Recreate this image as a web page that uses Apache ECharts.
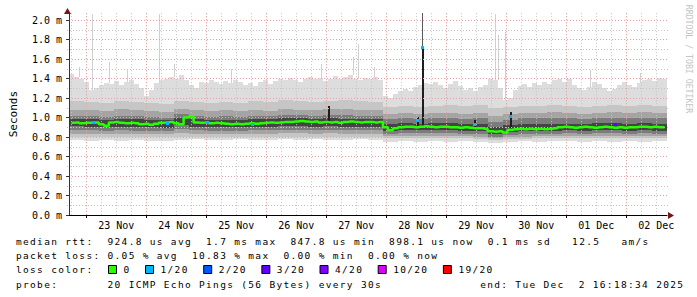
<!DOCTYPE html>
<html><head><meta charset="utf-8">
<script src="https://cdn.jsdelivr.net/npm/echarts@6/dist/echarts.min.js"></script>
<style>
html,body{margin:0;padding:0;background:#fff;}
#c{width:697px;height:297px;}
#c svg text{white-space:pre;}
#c svg text[style*="monospace"]{letter-spacing:1.32px;}
</style></head><body><div id="c"></div>
<script>
// time axis in hours since 22 Nov 2025 00:00
const startHour = 16.3094;   // 22 Nov 16:18:34
const spanHours = 240;
const dayLabels = ['23 Nov','24 Nov','25 Nov','26 Nov','27 Nov','28 Nov','29 Nov','30 Nov','01 Dec','02 Dec'];
const yTickLabels = ['0.0 m','0.2 m','0.4 m','0.6 m','0.8 m','1.0 m','1.2 m','1.4 m','1.6 m','1.8 m','2.0 m'];

// median rtt (ms), 120 slots of 2 h
const median = [0.945,0.95,0.94,0.945, 0.945,0.95, 0.93,0.915, 0.95,0.955,0.945,0.94,
 0.945,0.94,0.93,0.935, 0.925,0.935,0.945,0.95, 0.955,0.94,0.93,1.0, 1.01,0.95,
 0.945,0.95,0.94,0.945,0.94, 0.935,0.93,0.935,0.93,0.935,0.94,0.935,0.94,
 0.945,0.95,0.945,0.95,0.955,0.955, 0.96,0.965,0.96,0.955,0.96,0.95,
 0.955,0.95,0.955,0.945,0.955,0.96,0.955,0.95, 0.955,0.955,0.95,0.955, 0.9,
 0.87,0.89,0.9, 0.905,0.905,0.9,0.905,0.91,0.905,0.9,0.905,0.905,0.9,
 0.9,0.895,0.9,0.895,0.89,0.89,0.885, 0.86,0.855,0.86,0.845,
 0.875,0.88,0.885,0.88,0.885,0.88,0.885,0.88,0.885,0.89,
 0.9,0.905,0.9,0.895,0.9,0.905,0.9,0.895,0.9,0.905,0.9,0.895,0.9,0.895,0.9,0.9,0.905,0.905,0.9,0.905,0.9,0.9];

// highest ping (ms), 120 slots of 2 h
const pingMax = [1.45,1.42,1.40,1.36, 1.28,1.30,1.33,1.35, 1.34,1.37,1.33,1.36, 1.38,1.34,1.30,1.22,
 1.28,1.35,1.38,1.40, 1.42,1.40,1.44,1.38, 1.33,1.30,1.36,1.35, 1.38,1.36,1.34,1.37,
 1.35,1.38,1.36,1.33, 1.35,1.32,1.36,1.38, 1.34,1.37,1.40,1.38, 1.41,1.38,1.36,1.40,
 1.42,1.39,1.41,1.37, 1.40,1.43,1.39,1.42, 1.44,1.40,1.38,1.41, 1.39,1.42,1.38,
 1.22,1.20,1.24,1.27, 1.29,1.27,1.31,1.33, 1.35,1.34,1.36,1.33, 1.30,1.34,1.37,1.32,
 1.28,1.30,1.27,1.31, 1.33,1.40,1.38,1.30, 1.18,1.20,1.28,1.32, 1.34,1.31,1.35,1.33,
 1.36,1.34,1.38,1.40, 1.36,1.39,1.33,1.30, 1.28,1.31,1.36,1.34, 1.30,1.27,1.29,1.33,
 1.36,1.33,1.31,1.35, 1.38,1.40,1.37,1.41,1.39];

// lowest ping and smoke band edges (ms), 40 slots of 6 h
const pingMin = [0.77,0.76,0.77,0.76,0.77,0.76,0.76,0.77,0.78,0.77, 0.77,0.78,0.77,0.77,0.78,0.77,0.78,0.77,0.77,0.78,
 0.77,0.75,0.76,0.75,0.76,0.75,0.76,0.75,0.74,0.75, 0.76,0.75,0.76,0.76,0.75,0.76,0.75,0.76,0.75,0.76];
const smokeLoA = [0.80,0.80,0.80,0.80,0.80,0.795,0.80,0.80,0.80,0.80, 0.80,0.80,0.80,0.80,0.805,0.805,0.80,0.805,0.80,0.80,
 0.80,0.785,0.785,0.79,0.785,0.785,0.785,0.78,0.77,0.78, 0.78,0.785,0.785,0.785,0.785,0.785,0.785,0.785,0.785,0.785];
const smokeHiA = [1.17,1.16,1.15,1.17,1.16,1.15,1.14,1.17,1.16,1.15, 1.16,1.15,1.17,1.16,1.18,1.17,1.16,1.17,1.18,1.17,
 1.16,1.11,1.12,1.11,1.12,1.13,1.12,1.13,1.10,1.11, 1.12,1.12,1.13,1.12,1.11,1.12,1.13,1.12,1.13,1.12];
const smokeLoB = [0.835,0.835,0.83,0.835,0.83,0.83,0.83,0.84,0.835,0.83, 0.83,0.83,0.835,0.835,0.84,0.84,0.835,0.84,0.835,0.835,
 0.835,0.81,0.81,0.815,0.81,0.81,0.81,0.805,0.79,0.80, 0.805,0.81,0.81,0.81,0.81,0.81,0.81,0.81,0.81,0.81];
const smokeHiB = [1.08,1.08,1.07,1.09,1.08,1.07,1.06,1.09,1.08,1.07, 1.08,1.07,1.08,1.07,1.09,1.08,1.08,1.09,1.09,1.08,
 1.08,1.04,1.05,1.04,1.05,1.05,1.04,1.05,1.02,1.04, 1.05,1.05,1.06,1.05,1.04,1.05,1.06,1.05,1.06,1.05];
const smokeLoC = [0.87,0.87,0.865,0.87,0.865,0.865,0.86,0.88,0.87,0.865, 0.865,0.865,0.87,0.87,0.875,0.875,0.87,0.875,0.87,0.87,
 0.87,0.835,0.84,0.845,0.84,0.84,0.835,0.83,0.80,0.82, 0.83,0.835,0.835,0.84,0.835,0.84,0.84,0.835,0.84,0.835];
const smokeHiC = [1.02,1.02,1.01,1.02,1.02,1.01,1.00,1.04,1.02,1.01, 1.02,1.01,1.02,1.02,1.03,1.03,1.02,1.03,1.03,1.02,
 1.02,0.98,0.99,0.98,0.99,0.99,0.98,0.99,0.95,0.97, 0.99,0.99,1.00,0.99,0.98,0.99,1.00,0.99,1.00,0.99];
const smokeLoD = [0.91,0.905,0.9,0.905,0.9,0.9,0.895,0.92,0.905,0.9, 0.9,0.9,0.9,0.905,0.91,0.91,0.905,0.91,0.905,0.905,
 0.905,0.865,0.87,0.875,0.87,0.87,0.865,0.86,0.83,0.85, 0.86,0.865,0.865,0.87,0.865,0.87,0.87,0.865,0.87,0.865];
const smokeHiD = [0.98,0.98,0.975,0.98,0.98,0.97,0.97,1.0,0.98,0.975, 0.975,0.975,0.98,0.98,0.99,0.99,0.985,0.99,0.985,0.98,
 0.98,0.935,0.94,0.935,0.94,0.94,0.935,0.935,0.90,0.92, 0.93,0.935,0.935,0.935,0.935,0.94,0.94,0.935,0.94,0.935];

// isolated high pings
const lightSpikeHours = [20.3,25.5,32.3,39.5,52.3,58.3,81.5,117.5,130.3,132.3,138.7,187.1,188.3,191.1,225.5,245.5];
const lightSpikeTops  = [1.52,2.06,1.57,1.50,2.06,1.55,1.50,1.55,1.62,1.75,1.52,2.06,1.85,1.88,1.49,1.46];
const darkSpikeHours = [120.3,155.9,158.1,178.7,193.5];
const darkSpikeTops  = [1.12,1.01,1.72,0.97,1.06];
const greySpikeHours = [158.1];
const greySpikeTops  = [2.07];

// median samples with packet loss
const lossHours  = [25.9,55.5,71.5,89.9,155.9,158.1,178.7,193.5,235.5];
const lossValues = [0.95,0.945,0.95,0.935,0.97,1.72,0.93,1.015,0.93];
const lossCounts = [1,1,1,1,1,1,1,1,3];

const lossLegendLabels = ['0','1/20','2/20','3/20','4/20','10/20','19/20'];
const lossLegendColors = ['#26ff00','#00b8ff','#0059ff','#5e00ff','#7e00ff','#dd00ff','#ff0000'];
const lossColorOf = {0:'#26ff00',1:'#00b8ff',2:'#0059ff',3:'#5e00ff',4:'#7e00ff',10:'#dd00ff',19:'#ff0000'};

const legendLines = [
  'median rtt:  924.8 us avg  1.7 ms max  847.8 us min  898.1 us now  0.1 ms sd   12.5   am/s',
  'packet loss: 0.05 % avg  10.83 % max  0.00 % min  0.00 % now',
  'loss color:',
  'probe:       20 ICMP Echo Pings (56 Bytes) every 30s'
];
const endText = 'end: Tue Dec  2 16:18:34 2025';

function slotOf(h, n) { return Math.min(n - 1, Math.max(0, Math.floor((h - startHour) / (spanHours / n)))); }

function rectItem(api, h0, h1, v0, v1, color) {
  const p0 = api.coord([h0, v1]);
  const p1 = api.coord([h1, v0]);
  const x0 = Math.round(p0[0]), x1 = Math.round(p1[0]);
  const y0 = Math.round(p0[1]), y1 = Math.round(p1[1]);
  return {type: 'rect', shape: {x: x0, y: y0, width: Math.max(1, x1 - x0), height: Math.max(1, y1 - y0)}, style: {fill: color}};
}

function bandSeries(lo, hi, color, z) {
  const n = hi.length, w = spanHours / n;
  return {
    type: 'custom', xAxisIndex: 0, yAxisIndex: 0, z: z, silent: true, clip: false,
    data: hi.map((v, i) => [startHour + i * w, startHour + (i + 1) * w, lo[Math.floor(i * lo.length / n)], v]),
    encode: {x: [0, 1], y: [2, 3]},
    renderItem: (params, api) => rectItem(api, api.value(0), api.value(1), api.value(2), api.value(3), color)
  };
}

function spikeSeries(hours, tops, baseArr, color, width, z) {
  return {
    type: 'custom', xAxisIndex: 0, yAxisIndex: 0, z: z, silent: true, clip: false,
    data: hours.map((h, i) => [h, baseArr[slotOf(h, baseArr.length)], tops[i]]),
    encode: {x: 0, y: [1, 2]},
    renderItem: (params, api) => {
      const p0 = api.coord([api.value(0), api.value(2)]);
      const p1 = api.coord([api.value(0), api.value(1)]);
      const x = Math.round(p0[0]);
      return {type: 'rect', shape: {x: x, y: Math.round(p0[1]), width: width, height: Math.round(p1[1]) - Math.round(p0[1])}, style: {fill: color}};
    }
  };
}

const series = [
  bandSeries(pingMin, pingMax, '#dddddd', 1),
  spikeSeries(lightSpikeHours, lightSpikeTops, pingMax, '#d0d0d0', 1, 1.1),
  bandSeries(smokeLoA, smokeHiA, '#c6c6c6', 1.2),
  bandSeries(smokeLoB, smokeHiB, '#a4a4a4', 1.3),
  bandSeries(smokeLoC, smokeHiC, '#7c7c7c', 1.4),
  bandSeries(smokeLoD, smokeHiD, '#444444', 1.5),
  spikeSeries(greySpikeHours, greySpikeTops, median, '#5a5a5a', 1, 1.6),
  spikeSeries(darkSpikeHours, darkSpikeTops, median, '#1e1e1e', 2, 1.7),
  {
    type: 'line', xAxisIndex: 0, yAxisIndex: 0, z: 5, silent: true, step: 'middle', symbol: 'none',
    lineStyle: {color: '#26ff00', width: 2.5}, clip: false,
    data: median.map((v, i) => [startHour + (i + 0.5) * spanHours / median.length, v])
  },
  {
    type: 'custom', xAxisIndex: 0, yAxisIndex: 0, z: 6, silent: true, clip: false,
    data: lossHours.map((h, i) => [h, lossValues[i], lossCounts[i]]),
    encode: {x: 0, y: 1},
    renderItem: (params, api) => {
      const p = api.coord([api.value(0), api.value(1)]);
      return {type: 'rect', shape: {x: Math.round(p[0]) - 1, y: Math.round(p[1]) - 1, width: 3, height: 3},
              style: {fill: lossColorOf[api.value(2)]}};
    }
  }
];

const monoAxis = {fontFamily: 'DejaVu Sans Mono', fontSize: 10, color: '#000'};
const dotRed = {color: '#eaa0a0', width: 1, type: [1, 2]};
const dotGrey = {color: '#c4c4c4', width: 1, type: [1, 2]};
const hidden = {axisLine: {show: false}, axisTick: {show: false}, axisLabel: {show: false}, splitLine: {show: false}};

const gTop = 13.175, gBottom = 82;
const option = {
  backgroundColor: '#ffffff',
  animation: false,
  grid: [
    {left: 67, right: 30, top: gTop, bottom: gBottom},
    {left: 71.2265, right: 40.7735, top: gTop, bottom: gBottom},
    {left: 86.2265, right: 70.7735, top: gTop, bottom: gBottom},
    {left: 116.2265, right: 40.7735, top: gTop, bottom: gBottom},
    {left: 67, right: 29, top: 29.75, bottom: 91.75}
  ],
  xAxis: [
    Object.assign({}, hidden, {gridIndex: 0, type: 'value', min: startHour, max: startHour + spanHours, z: 4,
      axisLine: {show: true, lineStyle: {color: '#000', width: 1}}}),
    Object.assign({}, hidden, {gridIndex: 1, type: 'value', min: 18, max: 252, interval: 6, z: 3,
      splitLine: {show: true, lineStyle: dotGrey}}),
    Object.assign({}, hidden, {gridIndex: 2, type: 'value', min: 24, max: 240, interval: 24, z: 3.5,
      splitLine: {show: true, lineStyle: dotRed},
      axisTick: {show: true, length: 3, lineStyle: {color: '#000'}}}),
    Object.assign({}, hidden, {gridIndex: 3, type: 'value', min: 36, max: 252, interval: 24, z: 4,
      axisLabel: Object.assign({show: true, margin: 5, formatter: v => dayLabels[Math.round((v - 36) / 24)] || ''}, monoAxis)}),
    Object.assign({}, hidden, {gridIndex: 4, type: 'value', min: startHour, max: startHour + spanHours})
  ],
  yAxis: [
    {gridIndex: 0, type: 'value', min: 0, max: 2.07, interval: 0.2, z: 4,
      axisLine: {show: true, lineStyle: {color: '#333', width: 1}},
      axisTick: {show: true, length: 3, lineStyle: {color: '#333'}},
      axisLabel: Object.assign({margin: 7, showMaxLabel: false, formatter: v => {
        const k = v / 0.2; if (Math.abs(k - Math.round(k)) > 0.01) return ''; return yTickLabels[Math.round(k)] || '';
      }}, monoAxis),
      splitLine: {show: true, showMinLine: false, showMaxLine: false, lineStyle: dotRed},
      name: 'Seconds', nameLocation: 'middle', nameGap: 50,
      nameTextStyle: {fontFamily: 'DejaVu Sans Mono', fontSize: 11, color: '#000'}},
    Object.assign({}, hidden, {gridIndex: 1, type: 'value', min: 0, max: 1}),
    Object.assign({}, hidden, {gridIndex: 2, type: 'value', min: 0, max: 1}),
    Object.assign({}, hidden, {gridIndex: 3, type: 'value', min: 0, max: 1}),
    Object.assign({}, hidden, {gridIndex: 4, type: 'value', min: 0.1, max: 1.9, interval: 0.2, z: 3,
      splitLine: {show: true, lineStyle: dotGrey}})
  ],
  series: series
};

// legend / decoration
const legendFont = '9.5px "DejaVu Sans Mono", monospace';
const charW = 7.04;
const lineY = [241, 255.5, 269.5, 284];
const graphic = [];
legendLines.forEach((t, i) => graphic.push({type: 'text', x: 16, y: lineY[i], z: 10,
  style: {text: t, font: legendFont, fill: '#000', align: 'left', verticalAlign: 'middle'}}));
graphic.push({type: 'text', x: 16 + 66 * charW - 0.5, y: lineY[3], z: 10,
  style: {text: endText, font: legendFont, fill: '#000', align: 'left', verticalAlign: 'middle'}});
let bx = 108;
lossLegendLabels.forEach((lab, i) => {
  graphic.push({type: 'rect', x: 0, y: 0, z: 10, shape: {x: bx + 0.5, y: lineY[2] - 4, width: 8, height: 8},
    style: {fill: lossLegendColors[i], stroke: '#000', lineWidth: 1}});
  graphic.push({type: 'text', x: bx + 15.5, y: lineY[2], z: 10,
    style: {text: lab, font: legendFont, fill: '#000', align: 'left', verticalAlign: 'middle'}});
  bx += 15.5 + lab.length * charW + 14.5;
});
graphic.push({type: 'text', x: 688.5, y: 59, rotation: -Math.PI / 2, z: 10,
  style: {text: 'RRDTOOL / TOBI OETIKER', font: '8.2px "DejaVu Sans Mono"', fill: '#c4c4c4', align: 'center', verticalAlign: 'middle'}});
graphic.push({type: 'polygon', z: 10, shape: {points: [[67.5, 8], [64, 14], [71, 14]]}, style: {fill: '#7a1414'}});
graphic.push({type: 'polygon', z: 10, shape: {points: [[674, 215.5], [668, 212], [668, 219]]}, style: {fill: '#7a1414'}});
option.graphic = graphic;

const chart = echarts.init(document.getElementById('c'), null, {renderer: 'svg', width: 697, height: 297});
chart.setOption(option);
</script></body></html>
